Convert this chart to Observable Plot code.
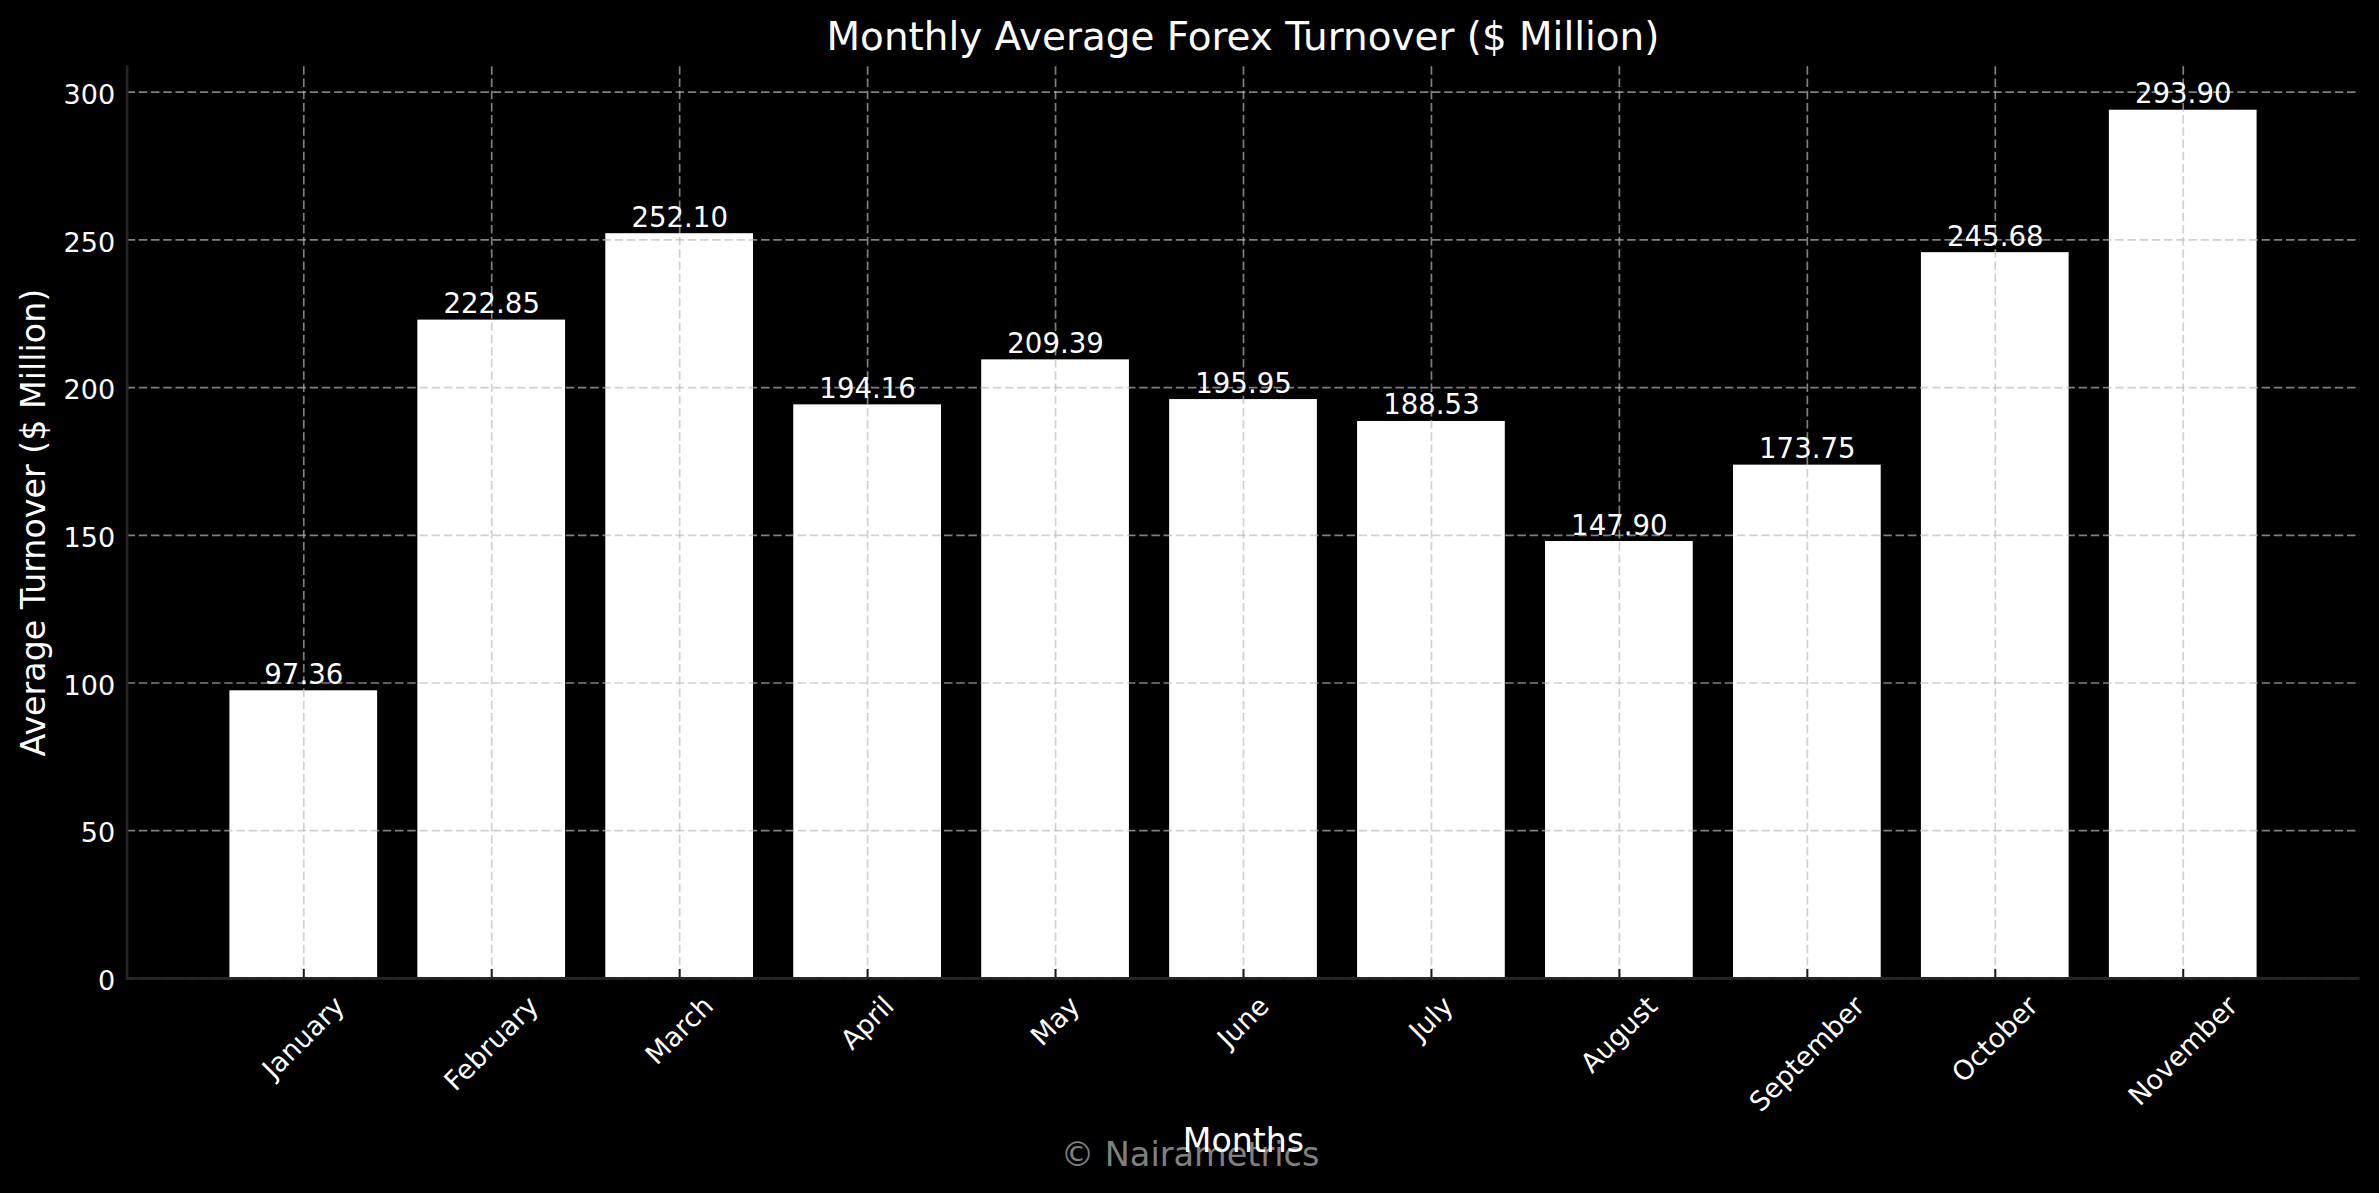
<!DOCTYPE html>
<html><head><meta charset="utf-8">
<script src="https://cdn.jsdelivr.net/npm/d3@7"></script>
<script src="https://cdn.jsdelivr.net/npm/@observablehq/plot@0.6"></script>
<style>
html,body{margin:0;padding:0;background:#000;width:2379px;height:1193px;overflow:hidden;}
#title{box-sizing:border-box;height:60px;padding:15px 20px 0 127px;line-height:44px;text-align:center;color:#fff;font-family:"DejaVu Sans";font-size:38.9px;white-space:nowrap;}
#chart svg{display:block;}
</style></head><body>
<div id="title">Monthly Average Forex Turnover ($ Million)</div>
<div id="chart"></div>
<script>
const months = ["January","February","March","April","May","June","July","August","September","October","November"];
const turnover = [97.36, 222.85, 252.10, 194.16, 209.39, 195.95, 188.53, 147.90, 173.75, 245.68, 293.90];
const yTicks = [0, 50, 100, 150, 200, 250, 300];
const yMax = 308.6;
const yLabel = "Average Turnover ($ Million)";
const xLabel = "Months";
const watermark = "© Nairametrics";

const data = months.map((m, i) => ({month: m, value: turnover[i]}));
const gridStyle = {stroke: "#bbbbbb", strokeOpacity: 0.68, strokeWidth: 1.7, strokeDasharray: "8.5,3.7"};

const plot = Plot.plot({
  width: 2379, height: 1133,
  marginTop: 6.3, marginBottom: 215.1, marginLeft: 126.6, marginRight: 19.6,
  style: {background: "#000", color: "#fff", fontFamily: "DejaVu Sans", fontSize: "27px", overflow: "visible"},
  x: {type: "band", domain: months, paddingInner: 0.214, paddingOuter: 0.547, round: false, axis: null},
  y: {domain: [0, yMax], axis: null},
  marks: [
    Plot.barY(data, {x: "month", y: "value", fill: "#fff"}),
    Plot.gridX({...gridStyle}),
    Plot.gridY(yTicks, {...gridStyle}),
    Plot.tickX(months, {x: d => d, insetTop: 902.6, stroke: "#1a1a1a", strokeWidth: 2}),
    Plot.ruleY([0], {stroke: "#262626", strokeWidth: 2.6}),
    Plot.frame({anchor: "left", stroke: "#262626", strokeWidth: 2.6}),
    Plot.axisY({ticks: yTicks, tickSize: 0, tickPadding: 12, fontSize: 27, dy: 3, fill: "#fff", label: null}),
    Plot.text(data, {x: "month", y: "value", text: d => d.value.toFixed(2), dy: -7, lineAnchor: "bottom", fill: "#fff", fontSize: 27.6}),
    Plot.text(months, {x: d => d, frameAnchor: "bottom", rotate: -45, textAnchor: "middle", lineAnchor: "middle", fontSize: 27, fill: "#fff"}),
    Plot.text([watermark], {frameAnchor: "bottom", dx: -53.5, dy: 187.1, lineAnchor: "bottom", fill: "#808080", fontSize: 33.5}),
    Plot.text([xLabel], {frameAnchor: "bottom", dy: 173.8, lineAnchor: "bottom", fill: "#fff", fontSize: 33.2}),
    Plot.text([yLabel], {frameAnchor: "left", rotate: -90, dx: -82, textAnchor: "middle", lineAnchor: "bottom", fill: "#fff", fontSize: 33.3})
  ]
});
document.getElementById("chart").append(plot);
plot.querySelectorAll("text").forEach(t => {
  const tr = t.getAttribute("transform") || "";
  if (!/rotate\(\s*-45\s*\)/.test(tr) || !months.includes(t.textContent)) return;
  const m = /translate\(\s*([-\d.e]+)[ ,]+([-\d.e]+)\s*\)/.exec(tr);
  if (!m) return;
  const w = t.getComputedTextLength();
  const x = +m[1], y = +m[2];
  t.setAttribute("transform", `translate(${x},${y + 14 + 0.3536 * (w + 26)}) rotate(-45)`);
});
</script>
</body></html>
